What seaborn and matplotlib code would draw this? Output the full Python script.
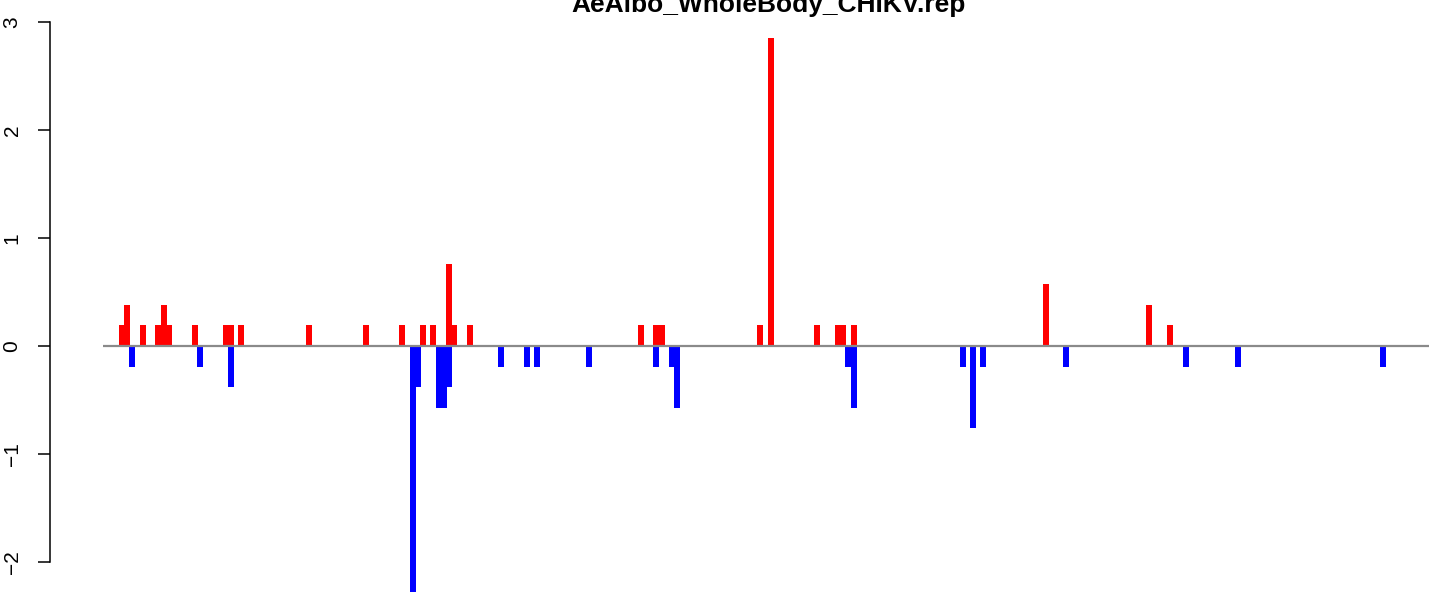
import numpy as np
import pandas as pd
import matplotlib
matplotlib.use("Agg")
import matplotlib.pyplot as plt
import seaborn as sns

title = "AeAlbo_WholeBody_CHIKV.rep"

# bin positions and values
up_pos = [121.5, 127, 143, 158, 164, 169.5, 195, 225.5, 231, 241, 309, 366,
          402, 423, 433, 449, 454.5, 470, 641, 656, 662, 760, 771, 817,
          838, 843.5, 854, 1046, 1149, 1170]
up_val = [0.19, 0.38, 0.19, 0.19, 0.38, 0.19, 0.19, 0.19, 0.19, 0.19, 0.19, 0.19,
          0.19, 0.19, 0.19, 0.76, 0.19, 0.19, 0.19, 0.19, 0.19, 0.19, 2.85, 0.19,
          0.19, 0.19, 0.19, 0.57, 0.38, 0.19]

down_pos = [132, 200, 231, 413, 418.5, 439, 444.5, 449, 501, 527, 537, 589,
            656, 671.5, 677, 848, 854, 963, 973, 983, 1066, 1186, 1238, 1383]
down_val = [-0.19, -0.19, -0.38, -2.28, -0.38, -0.57, -0.57, -0.38, -0.19, -0.19, -0.19, -0.19,
            -0.19, -0.19, -0.57, -0.19, -0.57, -0.19, -0.76, -0.19, -0.19, -0.19, -0.19, -0.19]

yticks = [-2, -1, 0, 1, 2, 3]

sns.set_style("white")
plt.rcParams["font.family"] = ["Liberation Sans", "DejaVu Sans"]

df = pd.concat([
    pd.DataFrame({"pos": up_pos, "value": up_val, "dir": "up"}),
    pd.DataFrame({"pos": down_pos, "value": down_val, "dir": "down"}),
], ignore_index=True)

W, H = 1429, 593
fig = plt.figure(figsize=(W / 100, H / 100), dpi=100)
left = 103 / W
ax = fig.add_axes([left, 0, 1 - left, 1])

sns.barplot(data=df, x="pos", y="value", hue="dir",
            palette={"up": "#ff0000", "down": "#0000ff"},
            native_scale=True, dodge=False, errorbar=None, legend=False,
            saturation=1, linewidth=0, ax=ax)

bar_w = 5.6
for p in ax.patches:
    c = p.get_x() + p.get_width() / 2
    p.set_width(bar_w)
    p.set_x(c - bar_w / 2)
    p.set_edgecolor("none")

ax.axhline(0, color="#8a8a8a", lw=1.6, zorder=5)

ax.set_xlim(103, 1429)
ax.set_ylim(-(H - 346) / 108, 346 / 108)
ax.set_xticks([])
ax.set_xlabel("")
ax.set_ylabel("")
ax.set_yticks(yticks)
ax.set_yticklabels([str(t).replace("-", "\u2212") for t in yticks])

for s in ["top", "right", "bottom"]:
    ax.spines[s].set_visible(False)
ax.spines["left"].set_position(("outward", 38))
ax.spines["left"].set_bounds(-2, 3)
ax.spines["left"].set_color("black")
ax.spines["left"].set_linewidth(1.1)
ax.tick_params(axis="y", left=True, length=8.6, width=1.1, color="black",
               pad=12, labelsize=15, labelrotation=90, labelcolor="black")
for lab in ax.get_yticklabels():
    lab.set_va("center")

fig.text(769 / W, 1 - 12 / H, title, ha="center", va="baseline",
         fontsize=19, fontweight="bold", color="black")

fig.savefig("out.png", dpi=100)
